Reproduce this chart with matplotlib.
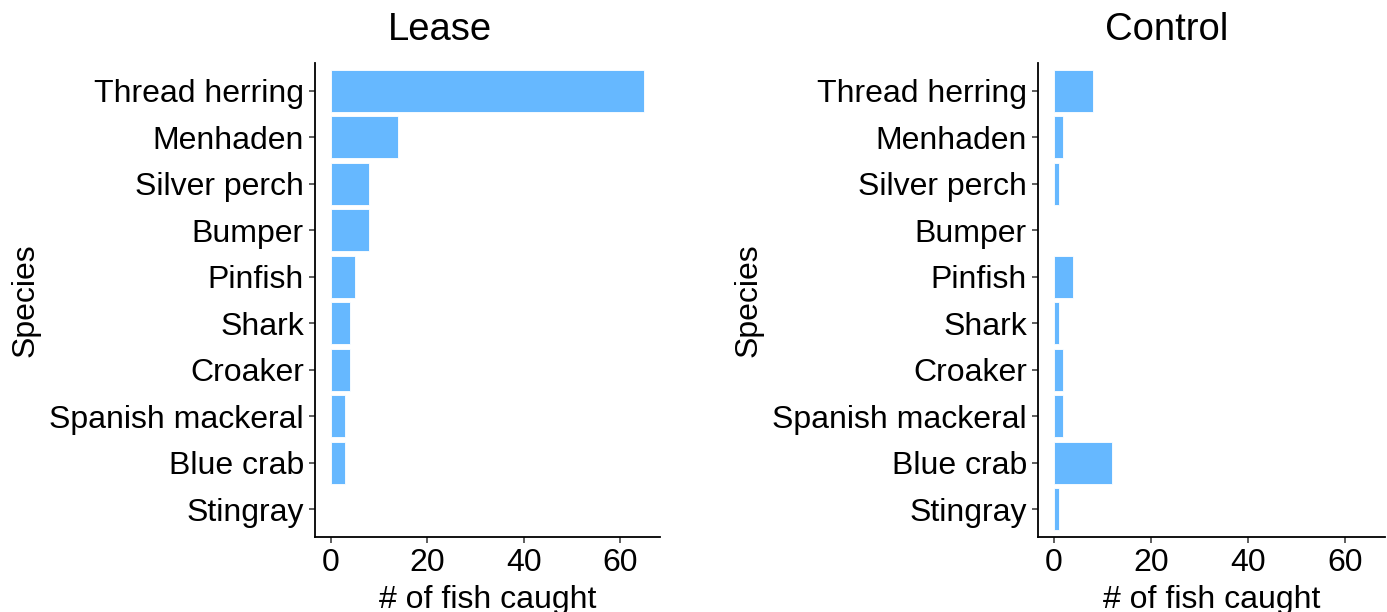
import matplotlib.pyplot as plt
import numpy as np

plt.rcParams['font.family'] = ['Liberation Sans', 'DejaVu Sans']

especies = ['Thread herring', 'Menhaden', 'Silver perch', 'Bumper', 'Pinfish',
            'Shark', 'Croaker', 'Spanish mackeral', 'Blue crab', 'Stingray']
lease = [65, 14, 8, 8, 5, 4, 4, 3, 3, 0]
control = [8, 2, 1, 0, 4, 1, 2, 2, 12, 1]
paineis = [('Lease', lease), ('Control', control)]

cor = '#66B8FF'
fig = plt.figure(figsize=(13.87, 6.12), dpi=100)

# posicoes em pixels (esquerda, direita) de cada painel
caixas = [(315, 660), (1038, 1385)]
titulo_x = [440, 1167]
W, H = 1387, 612
y0, y1 = 537, 63

for (nome, vals), (xa, xb), tx in zip(paineis, caixas, titulo_x):
    ax = fig.add_axes([xa / W, 1 - y0 / H, (xb - xa) / W, (y0 - y1) / H])
    y = np.arange(len(especies))
    ax.barh(y, vals, height=0.9, color=cor, edgecolor='white', linewidth=0.6)
    ax.set_yticks(y)
    ax.set_yticklabels(especies)
    ax.set_ylim(len(especies) - 0.4, -0.6)
    ax.set_xlim(-3.25, 68.25)
    ax.set_xticks([0, 20, 40, 60])
    for s in ['top', 'right']:
        ax.spines[s].set_visible(False)
    for s in ['left', 'bottom']:
        ax.spines[s].set_linewidth(1.3)
        ax.spines[s].set_color('black')
    ax.tick_params(axis='both', labelsize=23, length=4, width=1.1,
                   color='#333333', pad=4)
    ax.set_xlabel('# of fish caught', fontsize=23, labelpad=5)
    ax.set_ylabel('Species', fontsize=23, labelpad=6)
    fig.text(tx / W, 1 - 30 / H, nome, fontsize=27.5, ha='center', va='center')

fig.savefig('out.png', dpi=100)
